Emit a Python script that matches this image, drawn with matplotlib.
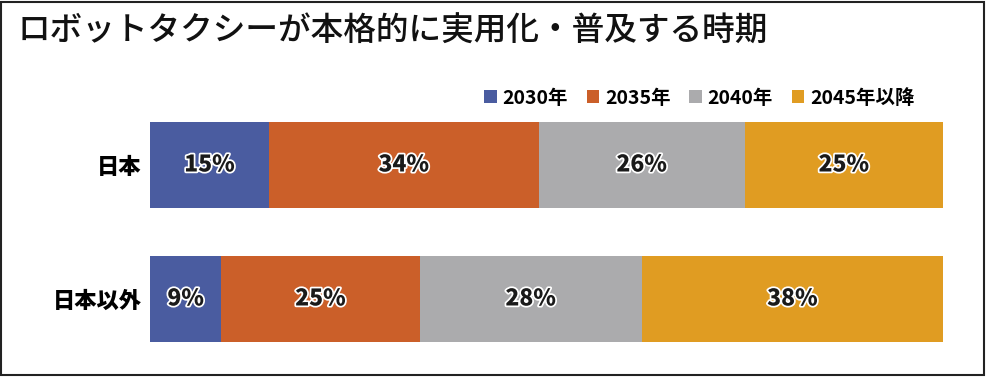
import matplotlib
matplotlib.use("Agg")
import matplotlib.pyplot as plt
import matplotlib.patheffects as pe
from matplotlib.patches import Rectangle

plt.rcParams["font.family"] = ["Noto Sans CJK JP", "DejaVu Sans"]

title = "ロボットタクシーが本格的に実用化・普及する時期"
regions = ["日本", "日本以外"]
periods = ["2030年", "2035年", "2040年", "2045年以降"]
shares = {
    "2030年": [15, 9],
    "2035年": [34, 25],
    "2040年": [26, 28],
    "2045年以降": [25, 38],
}
colors = ["#4A5CA0", "#CB5F29", "#ABABAD", "#E09C22"]

W, H = 986, 377
fig = plt.figure(figsize=(W / 100, H / 100), dpi=100)
ax = fig.add_axes([150 / W, 1 - 342 / H, 793 / W, 220 / H])

ypos = list(range(len(regions)))
left = [0] * len(regions)
handles = []
for period, color in zip(periods, colors):
    vals = shares[period]
    bars = ax.barh(ypos, vals, left=left, height=0.642, color=color,
                   edgecolor="none", label=period)
    handles.append(bars)
    for y, l, v in zip(ypos, left, vals):
        ax.text(l + v / 2, y, f"{v}%", ha="center", va="center",
                fontsize=16.5, fontweight="black", color="#1a1a1a",
                path_effects=[pe.withStroke(linewidth=2.5, foreground="white")])
    left = [a + b for a, b in zip(left, vals)]

ax.set_xlim(0, 100)
ax.set_ylim(1.321, -0.321)
ax.set_yticks(ypos)
ax.set_yticklabels(regions, fontsize=16, fontweight="black")
ax.tick_params(axis="y", length=0, pad=6)
ax.set_xticks([])
for s in ax.spines.values():
    s.set_visible(False)

fig.text(18 / W, 1 - 31 / H, title, fontsize=23.5, va="center", ha="left",
         color="#111111", fontweight="medium")

fig.legend(handles=handles, labels=periods, loc="center right",
           bbox_to_anchor=(932 / W, 1 - 98 / H), ncol=4, frameon=False,
           prop={"size": 14, "weight": "bold"}, handlelength=0.65,
           handleheight=0.65, handletextpad=0.3, columnspacing=0.95)

fig.add_artist(Rectangle((1 / W, 2 / H), 983 / W, 373 / H, transform=fig.transFigure,
                         fill=False, edgecolor="#222222", linewidth=1.5))

fig.savefig("out.png", dpi=100)
